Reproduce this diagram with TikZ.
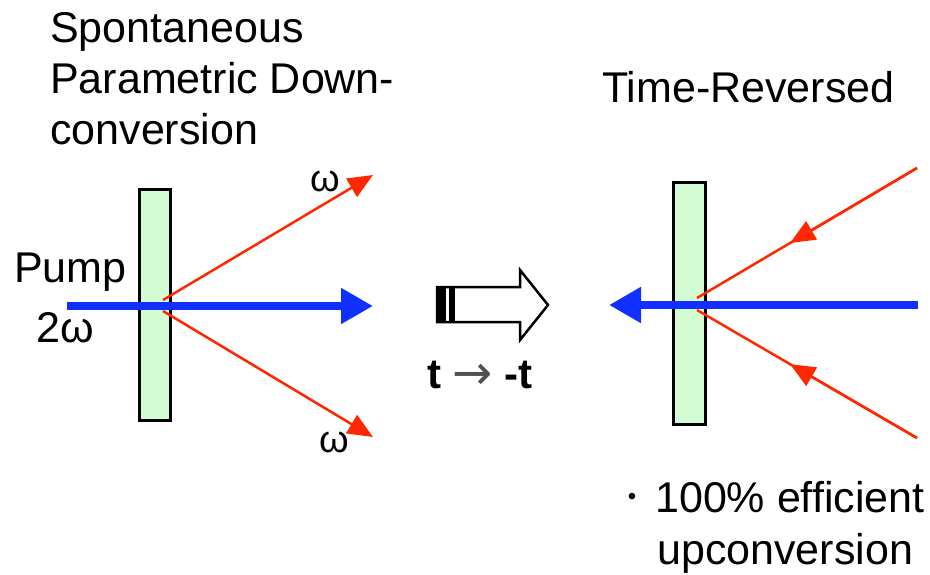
\documentclass[tikz,border=0pt]{standalone}
\usepackage{fontspec}
\setmainfont{Liberation Sans}
\newfontfamily\symfont{DejaVu Sans}
\usetikzlibrary{arrows.meta,calc}
\definecolor{crystalgreen}{RGB}{212,252,212}
\definecolor{beamred}{RGB}{255,40,0}
\definecolor{beamblue}{RGB}{16,48,255}
\definecolor{arrowgray}{RGB}{80,80,80}
\tikzset{
  lbl/.style={inner sep=0pt, anchor=base west, font=\fontsize{43}{51}\selectfont},
  omg/.style={inner sep=0pt, anchor=base, font=\fontsize{38}{40}\selectfont},
  crystal/.style={draw=black, line width=3pt, fill=crystalgreen},
  pumpbeam/.style={draw=beamblue, line width=8pt, -{Triangle[length=32pt,width=34pt]}},
  redbeam/.style={draw=beamred, line width=2.5pt},
  redtip/.style={draw=beamred, line width=2.5pt, -{Triangle[length=25pt,width=21pt]}},
}
\begin{document}
\begin{tikzpicture}[x=1pt,y=-1pt]
\useasboundingbox (0,0) rectangle (930,575);

% titles
\node[lbl] (t1) at (50,43) {Spontaneous};
\node[lbl] (t2) at (50,94) {Parametric Down-};
\node[lbl] (t3) at (50,145) {conversion};
\node[lbl] (t4) at (602,103) {Time-Reversed};

% left crystal
\draw[crystal] (139,190) rectangle (170,420);
\coordinate (LpumpS) at (67,306);
\coordinate (LpumpE) at (373,306);
\draw[pumpbeam] (LpumpS) -- (LpumpE);
\coordinate (LoU) at (163,300);
\coordinate (LoD) at (163,311);
\coordinate (LsigU) at (373,175);
\coordinate (LsigD) at (373,437);
\draw[redtip] (LoU) -- (LsigU);
\draw[redtip] (LoD) -- (LsigD);

\node[lbl] (pump) at (14,282) {Pump};
\node[lbl] (two) at (36,342) {2ω};
\node[omg] (wU) at (325,192) {ω};
\node[omg] (wD) at (334,452) {ω};

% hollow arrow
\draw[black, line width=2.5pt, fill=white, line join=miter]
  (437,287) -- (520,287) -- (520,270) -- (548,305) -- (520,340) -- (520,322) -- (437,322) -- cycle;
\fill[black] (437,287) rectangle (446,322);
\fill[black] (449,287) rectangle (455,322);
\node[inner sep=0pt, anchor=base west, font=\fontsize{42}{48}\selectfont\bfseries] (trev) at (427,388)
  {t {\symfont\mdseries\fontsize{48}{48}\selectfont\color{arrowgray}\raisebox{-1pt}{→}} -t};

% right crystal
\draw[crystal] (673,183) rectangle (705,424);
\coordinate (RpumpS) at (918,305);
\coordinate (RpumpE) at (609,305);
\draw[pumpbeam] (RpumpS) -- (RpumpE);
\coordinate (RinU) at (917,168);
\coordinate (RinD) at (917,438);
\coordinate (RoU) at (697,298);
\coordinate (RoD) at (697,310);
\draw[redbeam] (RinU) -- (RoU);
\draw[redbeam] (RinD) -- (RoD);
\coordinate (RmU) at ($(RinU)!0.577!(RoU)$);
\coordinate (RmD) at ($(RinD)!0.577!(RoD)$);
\draw[redtip] (RinU) -- (RmU);
\draw[redtip] (RinD) -- (RmD);

% bullet text
\node[inner sep=0pt, anchor=center, font=\fontsize{24}{24}\selectfont] (bul) at (632,499) {•};
\node[lbl] (b1) at (655,512) {100\% efficient};
\node[lbl] (b2) at (657,564) {upconversion};
\end{tikzpicture}
\end{document}
